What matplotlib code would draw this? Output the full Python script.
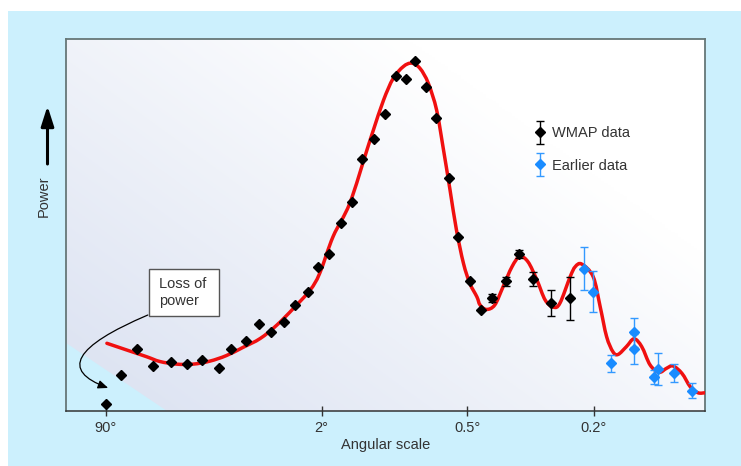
import matplotlib
matplotlib.use("Agg")
import matplotlib.pyplot as plt
from matplotlib.patches import Polygon, Rectangle, FancyArrowPatch, PathPatch
from matplotlib.path import Path
from matplotlib.legend_handler import HandlerErrorbar
from matplotlib.container import ErrorbarContainer
import numpy as np

plt.rcParams['font.family'] = ['Liberation Sans', 'DejaVu Sans']

# data (x in arbitrary angular-scale units 0-100, y = power 0-100)
wmap_x = [6.2, 8.6, 11.1, 13.6, 16.4, 18.9, 21.3, 23.9, 25.8, 28.1, 30.2, 32.1,
          34.1, 35.8, 37.8, 39.5, 41.2, 43.0, 44.8, 46.4, 48.2, 49.9, 51.6, 53.2,
          54.6, 56.3, 57.9, 59.9, 61.4, 63.2, 64.9, 66.7, 68.8, 70.9, 73.1, 75.9, 78.8]
wmap_y = [1.8, 9.6, 16.6, 12.1, 13.3, 12.6, 13.7, 11.5, 16.6, 18.8, 23.4, 21.2,
          23.9, 28.4, 31.9, 38.6, 42.2, 50.5, 56.1, 67.7, 73.0, 79.8, 90.1, 89.2,
          94.2, 87.0, 78.8, 62.7, 46.7, 35.0, 27.2, 30.4, 34.9, 42.2, 35.5, 29.0, 30.3]
wmap_err = [0] * 31 + [1.0, 1.2, 1.0, 1.9, 3.4, 5.8]

early_x = [81.1, 82.4, 85.3, 88.9, 88.9, 92.0, 92.7, 95.2, 97.9]
early_y = [38.2, 32.1, 12.8, 21.2, 16.7, 9.2, 11.3, 10.3, 5.4]
early_err = [5.8, 5.5, 2.3, 3.9, 4.0, 1.9, 4.4, 2.4, 2.0]

model_x = [6.4, 9.5, 12.6, 14.7, 17.3, 19.9, 22.5, 25.1, 27.7, 30.4, 33.0, 35.6,
           38.2, 39.7, 41.8, 44.4, 47.1, 48.1, 49.7, 51.2, 52.8, 54.1, 55.4, 56.7,
           58.0, 59.0, 60.1, 61.1, 62.2, 63.2, 64.3, 64.8, 65.8, 67.1, 68.4, 69.8,
           71.0, 72.3, 73.7, 75.0, 76.3, 77.3, 78.9, 79.7, 80.7, 82.5, 83.6, 84.6,
           85.6, 86.4, 87.7, 88.9, 90.1, 91.4, 92.8, 94.0, 95.0, 96.4, 97.7, 98.9, 100.0]
model_y = [18.2, 16.4, 14.6, 13.3, 12.6, 12.6, 13.4, 14.9, 17.1, 19.5, 23.1, 27.6,
           32.5, 37.0, 46.9, 55.8, 70.2, 75.5, 83.6, 89.4, 92.6, 93.5, 92.1, 88.1,
           80.9, 71.0, 59.4, 48.7, 39.7, 34.3, 30.7, 28.5, 27.3, 28.5, 33.4, 38.8,
           41.5, 40.1, 35.2, 29.8, 27.9, 29.0, 36.1, 38.8, 39.5, 36.1, 28.0, 20.0,
           15.9, 15.2, 17.3, 19.4, 17.3, 12.4, 10.4, 11.5, 12.1, 10.1, 6.5, 4.9, 4.9]

tick_pos = [6.2, 40.0, 62.8, 82.6]
tick_labels = ['90°', '2°', '0.5°', '0.2°']

page_blue = '#ccf0fd'
text_col = '#333333'

fig = plt.figure(figsize=(7.41, 4.66), dpi=100)
fig.patch.set_facecolor('white')
fig.patches.append(Rectangle((8 / 741, 0), 1, 1 - 11 / 466, transform=fig.transFigure,
                             facecolor=page_blue, edgecolor='none', zorder=-10))

ax = fig.add_axes([66 / 741, 1 - 411 / 466, 639 / 741, 372 / 466])
ax.set_xlim(0, 100)
ax.set_ylim(0, 100)

# gradient background
gx, gy = np.meshgrid(np.linspace(0, 1, 200), np.linspace(0, 1, 200))
t = np.clip(1 - (0.75 * gx + 0.6 * gy), 0, 1)
c0 = np.array([1.0, 1.0, 1.0])
c1 = np.array([218, 225, 241]) / 255
img = c0 + (c1 - c0) * t[..., None]
ax.imshow(img, extent=[0, 1, 0, 1], transform=ax.transAxes, origin='lower',
          aspect='auto', zorder=0)
ax.add_patch(Polygon([(0, 0), (0, 0.183), (0.158, 0)], closed=True, transform=ax.transAxes,
                     facecolor=page_blue, edgecolor='none', zorder=0.5))

# model curve as a smooth bezier path through the read points
pts = np.column_stack([model_x, model_y])
verts = [pts[0]]
codes = [Path.MOVETO]
n = len(pts)
for i in range(n - 1):
    p0 = pts[max(i - 1, 0)]
    p1 = pts[i]
    p2 = pts[i + 1]
    p3 = pts[min(i + 2, n - 1)]
    verts += [p1 + (p2 - p0) / 6, p2 - (p3 - p1) / 6, p2]
    codes += [Path.CURVE4] * 3
ax.add_patch(PathPatch(Path(verts, codes), facecolor='none', edgecolor='#f01010',
                       lw=2.5, zorder=3, capstyle='round', joinstyle='round'))

ax.errorbar(wmap_x, wmap_y, yerr=wmap_err, fmt='D', color='black', ms=5.3,
            ecolor='black', elinewidth=1, capsize=3, zorder=4, label='WMAP data')
ax.errorbar(early_x, early_y, yerr=early_err, fmt='D', color='#1a8cff', ms=5.3,
            ecolor='#3399ff', elinewidth=1, capsize=3, zorder=4, label='Earlier data')

leg = ax.legend(loc='upper left', bbox_to_anchor=(0.72, 0.785), frameon=False,
                fontsize=10.5, handlelength=0.9, handletextpad=0.35, labelspacing=1.25,
                borderpad=0, handler_map={ErrorbarContainer: HandlerErrorbar(yerr_size=0.8)})
for txt in leg.get_texts():
    txt.set_color(text_col)

# axes styling
for side in ['top', 'left', 'right']:
    ax.spines[side].set_color('#667777')
    ax.spines[side].set_linewidth(1.3)
ax.spines['bottom'].set_color('#333333')
ax.spines['bottom'].set_linewidth(1.1)
ax.set_yticks([])
ax.set_xticks(tick_pos)
ax.set_xticklabels(tick_labels)
ax.tick_params(axis='x', direction='inout', length=7, width=1, color='#333333',
               labelsize=10.5, labelcolor=text_col, pad=4)
ax.set_xlabel('Angular scale', fontsize=10.5, color=text_col, labelpad=2)

# Power label with arrow
fig.text(44 / 741, 1 - 196 / 466, 'Power', rotation=90, ha='center', va='center',
         fontsize=10.5, color=text_col)
fig.patches.append(FancyArrowPatch(
    (47.5 / 741, 1 - 164 / 466), (47.5 / 741, 1 - 106 / 466), transform=fig.transFigure,
    arrowstyle='-|>,head_length=1.0,head_width=0.32', color='black', lw=2.2,
    mutation_scale=12, shrinkA=0, shrinkB=0))

# Loss of power annotation
ax.add_patch(Rectangle((13.0, 25.5), 11.0, 12.7, facecolor='white', edgecolor='#555555',
                       lw=1.0, zorder=5))
ax.text(14.6, 31.9, 'Loss of\npower', fontsize=10.5, color=text_col, va='center',
        ha='left', linespacing=1.25, zorder=6)
ax.annotate('', xy=(6.6, 6.2), xytext=(12.8, 25.8),
            arrowprops=dict(arrowstyle='-|>,head_length=0.6,head_width=0.25', color='black',
                            lw=0.9, connectionstyle='angle3,angleA=23,angleB=-20',
                            shrinkA=0, shrinkB=0), zorder=6)

fig.savefig('out.png', dpi=100)
